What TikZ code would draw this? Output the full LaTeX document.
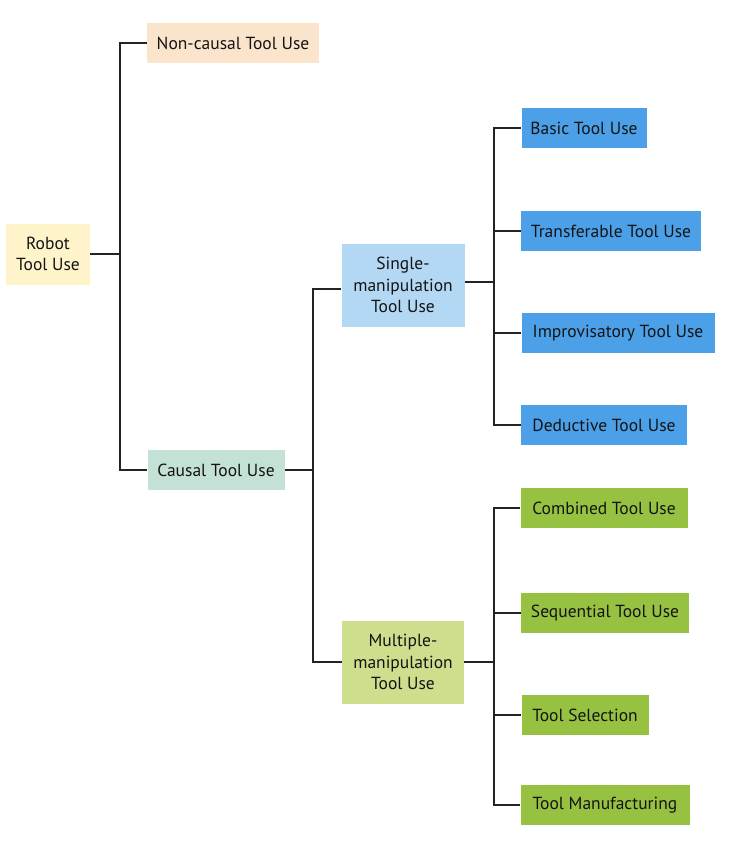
\documentclass[tikz,border=0pt]{standalone}
\usepackage{fontspec}
\setmainfont{PT Sans}
\usepackage{tikz}

\definecolor{rootfill}{RGB}{255,244,201}
\definecolor{noncausalfill}{RGB}{250,228,204}
\definecolor{causalfill}{RGB}{195,225,212}
\definecolor{singlefill}{RGB}{179,216,243}
\definecolor{multifill}{RGB}{205,222,141}
\definecolor{blueleaf}{RGB}{76,160,232}
\definecolor{greenleaf}{RGB}{151,193,65}
\definecolor{linecol}{RGB}{35,35,35}

\begin{document}
\begin{tikzpicture}[
  x=1pt, y=-1pt,
  box/.style = {rectangle, align=center, inner sep=0pt, font=\fontsize{17.5}{21.5}\selectfont, text=black!92, minimum height=40pt},
  link/.style = {draw=linecol, line width=1.9pt}
]
\useasboundingbox (0,0) rectangle (729,847);

% Level 0: root
\node[box, fill=rootfill, minimum width=84pt, minimum height=61pt] at (48,254) (robot) {Robot\\Tool Use};

% Level 1
\node[box, fill=noncausalfill, minimum width=172pt] at (233,43) (noncausal) {Non-causal Tool Use};
\node[box, fill=causalfill, minimum width=137pt] at (216,470) (causal) {Causal Tool Use};

% Level 2
\node[box, fill=singlefill, minimum width=123pt, minimum height=83pt] at (403,285) (single) {Single-\\manipulation\\Tool Use};
\node[box, fill=multifill, minimum width=122pt, minimum height=83pt] at (403,662) (multi) {Multiple-\\manipulation\\Tool Use};

% Level 3: single-manipulation leaves
\node[box, fill=blueleaf, minimum width=125pt] at (584,128) (basic) {Basic Tool Use};
\node[box, fill=blueleaf, minimum width=180pt] at (611,231) (transfer) {Transferable Tool Use};
\node[box, fill=blueleaf, minimum width=193pt] at (618,333) (improv) {Improvisatory Tool Use};
\node[box, fill=blueleaf, minimum width=166pt] at (604,425) (deduct) {Deductive Tool Use};

% Level 3: multiple-manipulation leaves
\node[box, fill=greenleaf, minimum width=167pt] at (604,508) (combined) {Combined Tool Use};
\node[box, fill=greenleaf, minimum width=168pt] at (605,613) (sequential) {Sequential Tool Use};
\node[box, fill=greenleaf, minimum width=127pt] at (585,715) (selection) {Tool Selection};
\node[box, fill=greenleaf, minimum width=169pt] at (605,805) (manufact) {Tool Manufacturing};

% Branch points
\coordinate (jroot) at (120,254);
\coordinate (jcausal) at (313,470);
\coordinate (jsingle) at (494,282);
\coordinate (jmulti) at (494,662);

% Root branches
\draw[link] (robot) -- (jroot);
\draw[link] (jroot) |- (noncausal);
\draw[link] (jroot) |- (causal);

% Causal branches
\draw[link] (causal) -- (jcausal);
\draw[link] (jcausal) |- ([yshift=-4pt]single.west);
\draw[link] (jcausal) |- (multi);

% Single-manipulation branches
\draw[link] (single.east |- jsingle) -- (jsingle);
\foreach \leaf in {basic, transfer, improv, deduct}
  \draw[link] (jsingle) |- (\leaf);

% Multiple-manipulation branches
\draw[link] (multi) -- (jmulti);
\foreach \leaf in {combined, sequential, selection, manufact}
  \draw[link] (jmulti) |- (\leaf);

\end{tikzpicture}
\end{document}
